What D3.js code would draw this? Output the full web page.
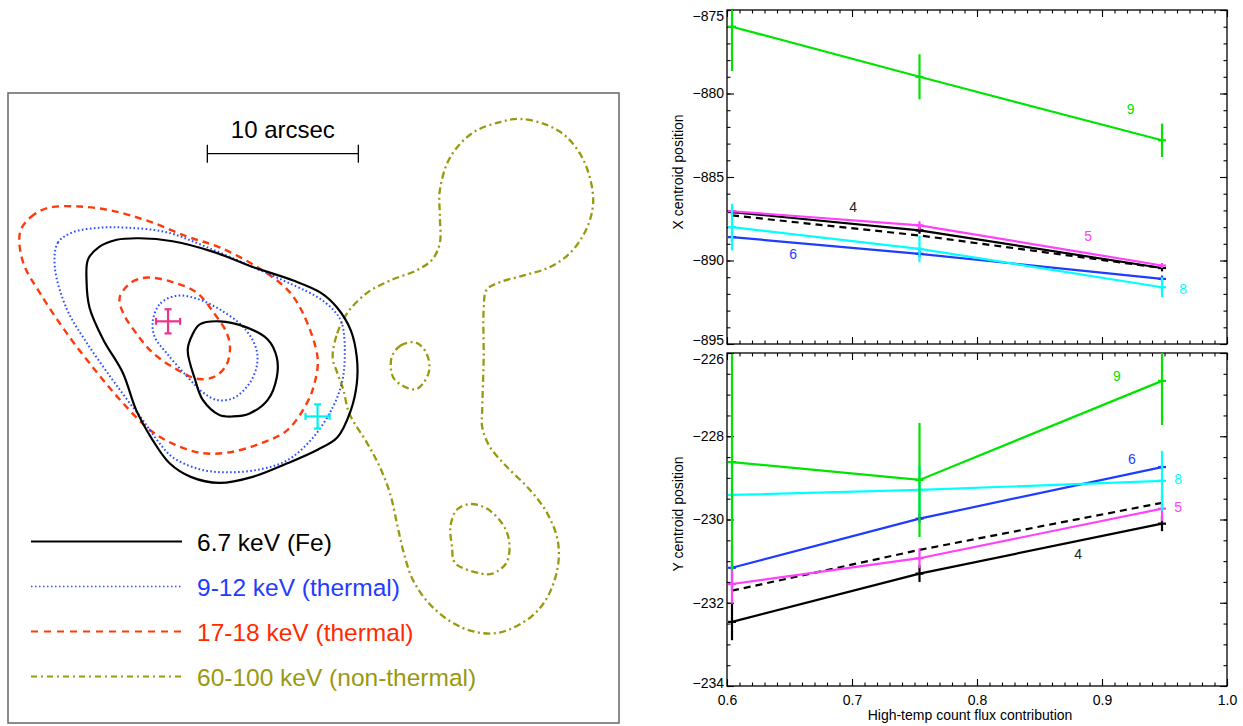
<!DOCTYPE html>
<html><head><meta charset="utf-8">
<script src="https://cdn.jsdelivr.net/npm/d3@7/dist/d3.min.js"></script>
<style>body{margin:0;background:#fff}svg{display:block;font-family:"Liberation Sans",Arial,Helvetica,sans-serif}</style>
</head><body><svg id="c" width="1243" height="726"></svg>
<script>
// ---------- LEFT PANEL DATA (arcsec, x to the right, y upward from panel lower-left) ----------
const fe67Outer = [[5.3,30.7],[6.0,31.5],[7.2,32.0],[8.7,32.1],[10.9,31.9],[13.6,31.2],[16.2,30.2],[18.9,29.3],[20.7,28.5],[21.8,27.5],[22.7,26.0],[23.1,24.2],[23.1,22.5],[22.7,20.7],[21.8,18.9],[20.5,18.1],[18.5,17.2],[16.2,16.3],[14.0,15.9],[12.1,16.3],[10.7,17.2],[9.6,18.7],[8.5,20.7],[7.6,23.2],[6.3,25.4],[5.4,27.5],[5.2,29.3]];
const fe67Inner = [[12.7,26.4],[14.0,26.6],[15.8,26.2],[17.2,25.4],[17.8,24.2],[17.8,22.9],[17.2,21.4],[16.0,20.5],[14.9,20.3],[14.0,20.4],[12.9,21.4],[12.4,22.7],[11.9,24.7],[12.2,25.7]];
const th912Outer = [[3.1,30.2],[3.3,31.8],[4.3,32.5],[6.1,32.8],[7.9,32.8],[10.5,32.5],[13.2,31.5],[16.2,30.2],[18.9,29.0],[20.5,28.2],[21.5,27.4],[22.1,26.5],[22.3,24.2],[22.1,22.5],[21.5,20.9],[20.2,18.9],[18.5,17.4],[16.7,16.8],[14.5,16.6],[12.7,16.8],[10.9,17.6],[9.9,18.7],[8.9,20.1],[7.9,21.4],[6.8,22.9],[5.2,25.2],[3.9,27.4]];
const th912Inner = [[9.6,26.7],[10.1,27.8],[11.2,28.3],[12.5,28.1],[14.0,27.4],[15.6,26.2],[16.4,24.9],[16.5,23.8],[16.0,22.5],[14.9,21.5],[13.8,21.4],[12.9,21.9],[11.9,22.9],[10.5,24.5],[9.7,25.6]];
const th1718Outer = [[0.8,32.5],[1.5,33.5],[2.6,34.1],[4.8,34.2],[7.0,33.9],[9.4,33.2],[11.9,32.2],[14.0,31.5],[16.5,30.2],[18.5,28.7],[19.5,27.2],[20.5,24.2],[20.3,22.5],[19.8,21.2],[18.5,19.4],[16.7,18.5],[14.5,17.9],[12.7,17.9],[10.9,18.5],[9.4,19.4],[7.6,21.2],[5.9,23.2],[3.9,25.8],[2.1,28.5],[1.0,30.5]];
const th1718Inner = [[7.4,28.2],[8.2,29.2],[9.2,29.5],[10.9,29.2],[12.5,28.5],[13.6,27.2],[14.5,25.8],[14.7,24.7],[14.4,23.6],[13.6,22.9],[12.5,22.8],[11.2,23.4],[9.6,24.5],[8.5,25.8],[7.6,27.2]];
const nt60100Main = [[21.5,24.2],[21.8,25.8],[22.5,27.2],[23.8,28.5],[25.3,29.3],[27.1,30.0],[28.1,30.7],[28.6,31.8],[28.6,33.5],[28.6,35.3],[29.3,37.5],[30.8,39.1],[32.6,39.8],[33.9,40.0],[35.7,39.6],[37.0,38.8],[38.1,37.3],[38.7,35.3],[38.7,34.0],[38.2,32.5],[37.2,31.1],[35.9,30.2],[34.4,29.7],[32.6,29.2],[31.7,28.7],[31.5,27.4],[31.5,24.2],[31.4,20.7],[31.4,19.6],[31.9,18.3],[33.0,17.0],[34.6,15.4],[35.7,13.9],[36.4,12.1],[36.4,10.3],[35.7,8.3],[34.6,7.0],[32.6,6.0],[31.1,6.0],[29.5,6.6],[27.9,7.9],[26.8,9.5],[26.2,11.3],[25.8,13.0],[25.3,15.2],[24.6,17.0],[23.8,18.5],[22.6,20.5],[22.2,22.1],[21.8,23.2]];
const nt60100SmallA = [[25.4,24.2],[26.0,25.0],[27.0,25.2],[27.7,24.5],[27.9,23.4],[27.5,22.5],[27.0,22.1],[26.2,22.3],[25.5,22.9]];
const nt60100SmallB = [[29.3,13.0],[29.7,14.1],[30.6,14.5],[31.7,14.2],[32.8,13.1],[33.2,11.9],[33.0,10.6],[32.1,9.9],[31.3,9.9],[29.6,10.6],[29.4,11.7]];
const centroidPink = {x:10.6, y:26.6, ex:0.8, ey:0.8};
const centroidCyan = {x:20.5, y:20.3, ex:0.8, ey:0.8};
const scaleBarArcsec = [13.2, 23.2];
const scaleBarY = 37.7;
const scaleBarLabel = "10 arcsec";
const legendLabels = ["6.7 keV (Fe)","9-12 keV (thermal)","17-18 keV (thermal)","60-100 keV (non-thermal)"];

// ---------- RIGHT PANELS DATA ----------
const fluxFrac = [0.604, 0.754, 0.948];
const xTicks = [0.6,0.7,0.8,0.9,1.0];
const xCentTicks = [-875,-880,-885,-890,-895];
const yCentTicks = [-226,-228,-230,-232,-234];
// X centroid position
const xc9 = [-876.0, -879.0, -882.8], xc9e = [2.65, 1.35, 1.0];
const xc4 = [-887.1, -888.2, -890.45], xc4e = [0.15, 0.2, 0.2];
const xc5 = [-887.05, -887.9, -890.3], xc5e = [0.1, 0.25, 0.15];
const xcMean = [-887.3, -888.5, -890.45];
const xc8 = [-888.0, -889.3, -891.6], xc8e = [1.4, 0.8, 0.6];
const xc6 = [-888.6, -889.6, -891.1], xc6e = [0.3, 0.2, 0.2];
// Y centroid position
const yc9 = [-228.62, -229.05, -226.67], yc9e = [2.6, 1.37, 1.06];
const yc8 = [-229.41, -229.29, -229.07], yc8e = [0.8, 0.6, 0.72];
const yc6 = [-231.16, -229.98, -228.74], yc6e = [0.55, 0.1, 0.06];
const yc5 = [-231.55, -230.93, -229.74], yc5e = [0.47, 0.24, 0.3];
const ycMean = [-231.71, -230.73, -229.6];
const yc4 = [-232.46, -231.3, -230.1], yc4e = [0.44, 0.2, 0.18];

const svg = d3.select("#c");

// ================= LEFT PANEL =================
const L = {x0:8, x1:619, y0:93, y1:723};
const ax = d3.scaleLinear().domain([0, 40.46]).range([L.x0, L.x1]);
const ay = d3.scaleLinear().domain([0, 41.72]).range([L.y1, L.y0]);
const left = svg.append("g");
left.append("rect").attr("x",L.x0).attr("y",L.y0).attr("width",L.x1-L.x0).attr("height",L.y1-L.y0)
  .attr("fill","none").attr("stroke","#666").attr("stroke-width",1.5);

const contourLine = d3.line().x(d=>ax(d[0])).y(d=>ay(d[1])).curve(d3.curveCatmullRomClosed.alpha(0.5));
const styles = {
  fe:{stroke:"#000", w:2.2, dash:null},
  b:{stroke:"#2a4cff", w:2, dash:"1.6 2.4"},
  r:{stroke:"#ff3a0a", w:2.4, dash:"7 5"},
  o:{stroke:"#999910", w:2.3, dash:"7 3.5 2 3.5"}
};
function contour(data, st){
  left.append("path").attr("d", contourLine(data)).attr("fill","none")
    .attr("stroke", st.stroke).attr("stroke-width", st.w)
    .attr("stroke-dasharray", st.dash).attr("stroke-linejoin","round");
}
contour(nt60100Main, styles.o);
contour(nt60100SmallA, styles.o);
contour(nt60100SmallB, styles.o);
contour(th1718Outer, styles.r);
contour(th1718Inner, styles.r);
contour(th912Outer, styles.b);
contour(th912Inner, styles.b);
contour(fe67Outer, styles.fe);
contour(fe67Inner, styles.fe);

function cross(c, color){
  const g = left.append("g").attr("stroke", color).attr("stroke-width", 2.2);
  const cx = ax(c.x), cy = ay(c.y);
  const x0 = ax(c.x - c.ex), x1 = ax(c.x + c.ex), y0 = ay(c.y - c.ey), y1 = ay(c.y + c.ey);
  g.append("line").attr("x1",x0).attr("x2",x1).attr("y1",cy).attr("y2",cy);
  g.append("line").attr("x1",cx).attr("x2",cx).attr("y1",y0).attr("y2",y1);
  const cap = 3.5;
  g.append("line").attr("x1",x0).attr("x2",x0).attr("y1",cy-cap).attr("y2",cy+cap);
  g.append("line").attr("x1",x1).attr("x2",x1).attr("y1",cy-cap).attr("y2",cy+cap);
  g.append("line").attr("x1",cx-cap).attr("x2",cx+cap).attr("y1",y0).attr("y2",y0);
  g.append("line").attr("x1",cx-cap).attr("x2",cx+cap).attr("y1",y1).attr("y2",y1);
}
cross(centroidPink, "#f0318c");
cross(centroidCyan, "#00f0f0");

// scale bar
const sb = left.append("g").attr("stroke","#000").attr("stroke-width",1.3);
sb.append("line").attr("x1",ax(scaleBarArcsec[0])).attr("x2",ax(scaleBarArcsec[1])).attr("y1",ay(scaleBarY)).attr("y2",ay(scaleBarY));
sb.append("line").attr("x1",ax(scaleBarArcsec[0])).attr("x2",ax(scaleBarArcsec[0])).attr("y1",ay(scaleBarY)-9).attr("y2",ay(scaleBarY)+9);
sb.append("line").attr("x1",ax(scaleBarArcsec[1])).attr("x2",ax(scaleBarArcsec[1])).attr("y1",ay(scaleBarY)-9).attr("y2",ay(scaleBarY)+9);
left.append("text").attr("x",(ax(scaleBarArcsec[0])+ax(scaleBarArcsec[1]))/2).attr("y",138)
  .attr("text-anchor","middle").attr("font-size",24).attr("fill","#000").text(scaleBarLabel);

// legend
const legStyles = [
  {stroke:"#000", w:2, dash:null, color:"#000"},
  {stroke:"#2a4cff", w:1.6, dash:"1.5 2.5", color:"#1f3cff"},
  {stroke:"#ff3a0a", w:2, dash:"7 6", color:"#ff2a00"},
  {stroke:"#999910", w:1.8, dash:"6 4 2 4", color:"#999910"}
];
const legY = d3.scaleBand().domain(legendLabels).range([519, 699]);
legendLabels.forEach((lab,i)=>{
  const y = legY(lab) + legY.bandwidth()/2;
  const s = legStyles[i];
  left.append("line").attr("x1",31).attr("x2",182).attr("y1",y).attr("y2",y)
    .attr("stroke",s.stroke).attr("stroke-width",s.w).attr("stroke-dasharray",s.dash);
  left.append("text").attr("x",197).attr("y",y+9).attr("font-size",24.5).attr("fill",s.color).text(lab);
});

// ================= RIGHT PANELS =================
const xS = d3.scaleLinear().domain([0.6,1.0]).range([727,1227]);
const yTop = d3.scaleLinear().domain([-895,-875]).range([344,10]);
const yBot = d3.scaleLinear().domain([-234,-226]).range([686,353]);
const colors = {g:"#00e400", k:"#000", m:"#ff40ff", c:"#00ffff", b:"#1e3cff"};
const FS = 14;

svg.append("defs").call(d=>{
  d.append("clipPath").attr("id","clipTop").append("rect").attr("x",727).attr("y",10).attr("width",500).attr("height",334);
  d.append("clipPath").attr("id","clipBot").append("rect").attr("x",727).attr("y",353).attr("width",500).attr("height",333);
});

function panel(yS, clipId, majorTicks, minorStep, showX, edgeShift){
  const g = svg.append("g");
  const [y0,y1] = yS.range(); // bottom, top
  const dom = yS.domain();
  const minorY = d3.range(dom[0], dom[1]+1e-9, minorStep);
  const minorX = d3.range(0.6, 1.0+1e-9, 0.01);
  // left
  g.append("g").attr("transform",`translate(727,0)`).call(d3.axisLeft(yS).tickValues(minorY).tickSizeInner(-3.5).tickSizeOuter(0).tickFormat(""));
  g.append("g").attr("transform",`translate(727,0)`).call(d3.axisLeft(yS).tickValues(majorTicks).tickSizeInner(-7).tickSizeOuter(0).tickPadding(3).tickFormat(d3.format("d")))
    .call(a=>a.selectAll("text").attr("font-size",FS).attr("fill","#000").attr("font-family","Liberation Sans, Arial, sans-serif")
      .attr("transform", d => d===dom[1] ? `translate(0,${edgeShift[1]})` : d===dom[0] ? `translate(0,${edgeShift[0]})` : null));
  // right
  g.append("g").attr("transform",`translate(1227,0)`).call(d3.axisRight(yS).tickValues(minorY).tickSizeInner(-3.5).tickSizeOuter(0).tickFormat(""));
  g.append("g").attr("transform",`translate(1227,0)`).call(d3.axisRight(yS).tickValues(majorTicks).tickSizeInner(-7).tickSizeOuter(0).tickFormat(""));
  // top
  g.append("g").attr("transform",`translate(0,${y1})`).call(d3.axisTop(xS).tickValues(minorX).tickSizeInner(-3.5).tickSizeOuter(0).tickFormat(""));
  g.append("g").attr("transform",`translate(0,${y1})`).call(d3.axisTop(xS).tickValues(xTicks).tickSizeInner(-7).tickSizeOuter(0).tickFormat(""));
  // bottom
  g.append("g").attr("transform",`translate(0,${y0})`).call(d3.axisBottom(xS).tickValues(minorX).tickSizeInner(-3.5).tickSizeOuter(0).tickFormat(""));
  g.append("g").attr("transform",`translate(0,${y0})`).call(d3.axisBottom(xS).tickValues(xTicks).tickSizeInner(-7).tickSizeOuter(0).tickPadding(9)
      .tickFormat(showX ? d3.format(".1f") : ""))
    .call(a=>a.selectAll("text").attr("font-size",FS).attr("fill","#000").attr("font-family","Liberation Sans, Arial, sans-serif"));
  g.selectAll(".domain").remove();
  g.selectAll(".tick line").attr("stroke","#000").attr("stroke-width",1.1);
  g.append("rect").attr("x",727).attr("y",y1).attr("width",500).attr("height",y0-y1)
    .attr("fill","none").attr("stroke","#000").attr("stroke-width",1.3);
  return svg.append("g").attr("clip-path",`url(#${clipId})`);
}

function series(g, yS, vals, errs, color, dashed){
  const pts = fluxFrac.map((x,i)=>[x, vals[i]]);
  g.append("path").attr("d", d3.line().x(d=>xS(d[0])).y(d=>yS(d[1]))(pts))
    .attr("fill","none").attr("stroke",color).attr("stroke-width",2.2).attr("stroke-dasharray", dashed ? "7 5" : null);
  if(errs){
    pts.forEach((p,i)=>{
      const cx = xS(p[0]), cy = yS(p[1]);
      g.append("line").attr("x1",cx).attr("x2",cx).attr("y1",yS(p[1]+errs[i])).attr("y2",yS(p[1]-errs[i]))
        .attr("stroke",color).attr("stroke-width",2.2);
      g.append("line").attr("x1",cx-4).attr("x2",cx+4).attr("y1",cy).attr("y2",cy)
        .attr("stroke",color).attr("stroke-width",2.2);
    });
  }
}
function label(yS, xv, yv, txt, color){
  svg.append("text").attr("x",xS(xv)).attr("y",yS(yv)).attr("text-anchor","middle").attr("dominant-baseline","middle")
    .attr("font-size",FS).attr("fill",color).text(txt);
}

// Top panel
const gt = panel(yTop, "clipTop", xCentTicks, 1, false, [-4, 6]);
series(gt, yTop, xc4, xc4e, colors.k);
series(gt, yTop, xcMean, null, colors.k, true);
series(gt, yTop, xc6, xc6e, colors.b);
series(gt, yTop, xc5, xc5e, colors.m);
series(gt, yTop, xc8, xc8e, colors.c);
series(gt, yTop, xc9, xc9e, colors.g);
label(yTop, 0.701, -886.9, "4", "#222");
label(yTop, 0.653, -889.7, "6", colors.b);
label(yTop, 0.923, -881.0, "9", colors.g);
label(yTop, 0.889, -888.6, "5", colors.m);
label(yTop, 0.965, -891.8, "8", colors.c);

// Bottom panel
const gb = panel(yBot, "clipBot", yCentTicks, 0.5, true, [-3, 6]);
series(gb, yBot, yc4, yc4e, colors.k);
series(gb, yBot, ycMean, null, colors.k, true);
series(gb, yBot, yc6, yc6e, colors.b);
series(gb, yBot, yc5, yc5e, colors.m);
series(gb, yBot, yc8, yc8e, colors.c);
series(gb, yBot, yc9, yc9e, colors.g);
label(yBot, 0.912, -226.58, "9", colors.g);
label(yBot, 0.924, -228.57, "6", colors.b);
label(yBot, 0.961, -229.05, "8", colors.c);
label(yBot, 0.961, -229.74, "5", colors.m);
label(yBot, 0.881, -230.85, "4", "#222");

// axis titles
svg.append("text").attr("transform","translate(679,172) rotate(-90)").attr("text-anchor","middle").attr("dominant-baseline","middle")
  .attr("font-size",FS).attr("fill","#000").text("X centroid position");
svg.append("text").attr("transform","translate(679,514) rotate(-90)").attr("text-anchor","middle").attr("dominant-baseline","middle")
  .attr("font-size",FS).attr("fill","#000").text("Y centroid position");
svg.append("text").attr("x",970).attr("y",720).attr("text-anchor","middle")
  .attr("font-size",FS).attr("fill","#000").text("High-temp count flux contribution");
</script></body></html>
